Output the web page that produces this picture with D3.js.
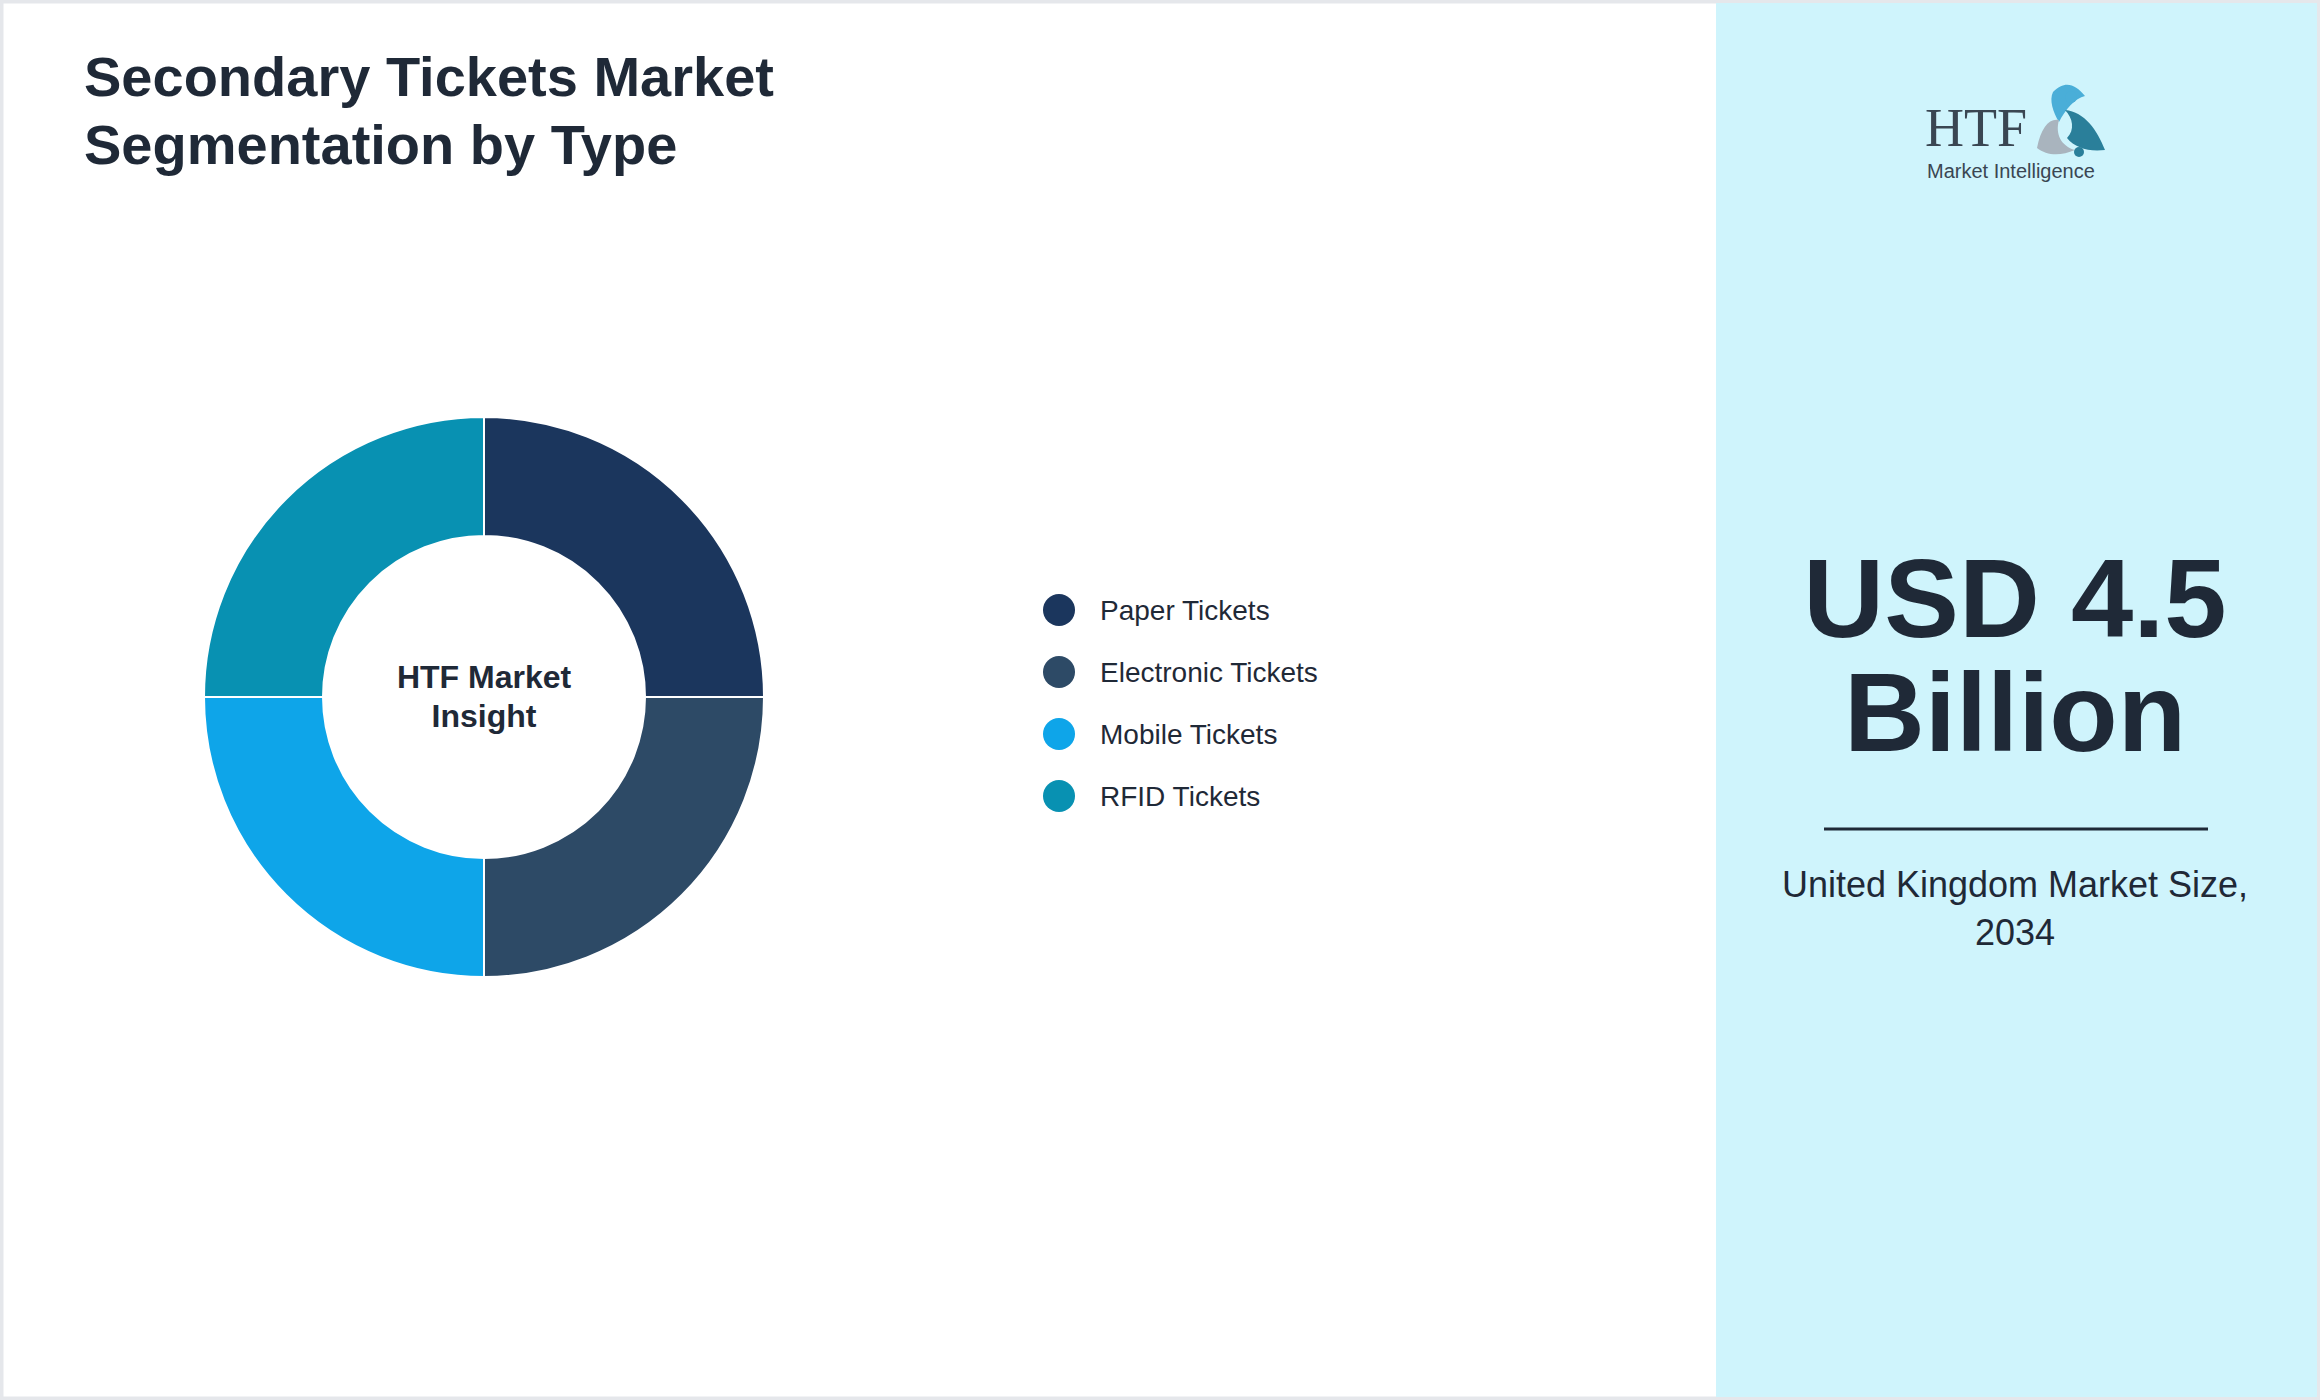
<!doctype html>
<html lang="en">
<head>
  <meta charset="utf-8">
  <title>Secondary Tickets Market Segmentation by Type</title>
  <style>
    html, body { margin: 0; padding: 0; background: #fff; }
    svg { display: block; font-family: 'Liberation Sans', Arial, sans-serif; }
  </style>
</head>
<body>
  <script src="https://cdn.jsdelivr.net/npm/d3@7"></script>
  <script>
    var categories = ['Paper Tickets', 'Electronic Tickets', 'Mobile Tickets', 'RFID Tickets']
    var shares = [25, 25, 25, 25]
    var colors = ['#1b365d', '#2d4a66', '#0ea5e9', '#0891b2']
    var titleLines = ['Secondary Tickets Market', 'Segmentation by Type']
    var centerLines = ['HTF Market', 'Insight']
    var bigLines = ['USD 4.5', 'Billion']
    var subLines = ['United Kingdom Market Size,', '2034']

    var W = 2320, H = 1400
    var svg = d3.select('body').append('svg')
      .attr('width', W)
      .attr('height', H)

    // frame and side panel
    svg.append('rect').attr('x', 1.5).attr('y', 1.5).attr('width', W - 3).attr('height', H - 3)
      .style('fill', '#fff').style('stroke', '#e5e7eb').style('stroke-width', 4)
    svg.append('rect').attr('x', 1716).attr('y', 3).attr('width', W - 1716 - 3).attr('height', H - 6)
      .style('fill', '#cff4fc')

    svg.append('g').selectAll('text')
      .data(titleLines).enter().append('text')
      .attr('x', 84)
      .attr('y', function(d, i) { return 96 + i * 68 })
      .style('font-size', '56px').style('font-weight', 'bold').style('fill', '#1f2937')
      .text(function(d) { return d })

    // donut
    var cx = 484, cy = 697
    var pie = d3.pie().sort(null).value(function(d) { return d })
    var arc = d3.arc().innerRadius(161).outerRadius(280)
    var donut = svg.append('g').attr('transform', 'translate(' + cx + ',' + cy + ')')
    donut.selectAll('path')
      .data(pie(shares)).enter().append('path')
      .attr('d', arc)
      .style('fill', function(d, i) { return colors[i] })
      .style('stroke', '#fff').style('stroke-width', 2)

    donut.selectAll('text')
      .data(centerLines).enter().append('text')
      .attr('text-anchor', 'middle')
      .attr('y', function(d, i) { return -9 + i * 39 })
      .style('font-size', '32px').style('font-weight', 'bold').style('fill', '#1f2937')
      .text(function(d) { return d })

    // legend
    var ly = d3.scalePoint().domain(categories).range([610, 796])
    var legend = svg.append('g').selectAll('g')
      .data(categories).enter().append('g')
      .attr('transform', function(d) { return 'translate(1059,' + ly(d) + ')' })
    legend.append('circle').attr('r', 16).style('fill', function(d, i) { return colors[i] })
    legend.append('text').attr('x', 41).attr('dy', '0.35em')
      .style('font-size', '28px').style('fill', '#1f2937')
      .text(function(d) { return d })

    // logo
    var logo = svg.append('g').attr('transform', 'translate(1925,0)')
    logo.append('text').attr('x', 0).attr('y', 146)
      .style('font-family', "'Liberation Serif', serif").style('font-size', '54px').style('fill', '#3a4652')
      .text('HTF')
    logo.append('text').attr('x', 2).attr('y', 178)
      .style('font-size', '20px').style('fill', '#3a4652').text('Market Intelligence')
    logo.append('path').attr('d', 'M128,92 C140,80 150,84 160,96 C150,98 140,110 134,122 C128,112 124,100 128,92 Z').style('fill', '#4aaed8')
    logo.append('circle').attr('cx', 146).attr('cy', 97).attr('r', 6).style('fill', '#4aaed8')
    logo.append('path').attr('d', 'M112,148 C116,128 124,118 134,120 C130,134 136,146 150,150 C136,156 122,156 112,148 Z').style('fill', '#a9b4be')
    logo.append('path').attr('d', 'M140,110 C160,112 172,130 180,150 C164,152 150,148 142,138 C150,130 148,118 140,110 Z').style('fill', '#2a7f9a')
    logo.append('circle').attr('cx', 154).attr('cy', 152).attr('r', 5).style('fill', '#2a7f9a')

    // market size
    var px = 2015
    svg.append('g').selectAll('text')
      .data(bigLines).enter().append('text')
      .attr('x', px).attr('text-anchor', 'middle')
      .attr('y', function(d, i) { return 637 + i * 114 })
      .style('font-size', '112px').style('font-weight', 'bold').style('fill', '#1f2937')
      .text(function(d) { return d })
    svg.append('line').attr('x1', 1824).attr('x2', 2208).attr('y1', 829).attr('y2', 829)
      .style('stroke', '#1f2937').style('stroke-width', 3)
    svg.append('g').selectAll('text')
      .data(subLines).enter().append('text')
      .attr('x', px).attr('text-anchor', 'middle')
      .attr('y', function(d, i) { return 897 + i * 48 })
      .style('font-size', '36px').style('fill', '#1f2937')
      .text(function(d) { return d })
  </script>
</body>
</html>
